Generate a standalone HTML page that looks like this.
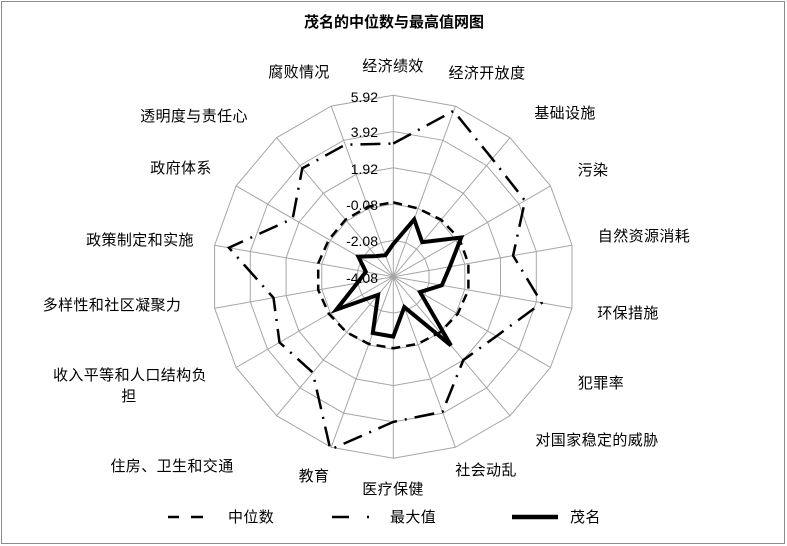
<!DOCTYPE html>
<html><head><meta charset="utf-8"><style>
html,body{margin:0;padding:0;background:#fff}
svg{display:block}
text{font-family:"Liberation Sans","Noto Sans CJK SC",sans-serif;fill:#000}
</style></head><body>
<svg id="s" width="787" height="546" viewBox="0 0 787 546" xmlns="http://www.w3.org/2000/svg">
<rect x="1.5" y="1.5" width="783" height="542" fill="#fff" stroke="#8c8c8c" stroke-width="1"/>
<text x="394" y="27" font-size="15" font-weight="bold" text-anchor="middle">茂名的中位数与最高值网图</text>
<g id="grid"></g>
<g id="series"></g>
<g font-size="14" text-anchor="end">
<text x="378" y="102">5.92</text>
<text x="378" y="137">3.92</text>
<text x="378" y="174">1.92</text>
<text x="378" y="210">-0.08</text>
<text x="378" y="246">-2.08</text>
<text x="378" y="283">-4.08</text>
</g>
<g font-size="15" letter-spacing="0.4" text-anchor="middle">
<text x="393" y="71">经济绩效</text>
<text x="487" y="78">经济开放度</text>
<text x="565" y="118">基础设施</text>
<text x="593" y="175">污染</text>
<text x="644" y="241">自然资源消耗</text>
<text x="628" y="318">环保措施</text>
<text x="601" y="388">犯罪率</text>
<text x="597" y="445">对国家稳定的威胁</text>
<text x="486" y="475">社会动乱</text>
<text x="393" y="494">医疗保健</text>
<text x="314" y="481">教育</text>
<text x="172" y="471">住房、卫生和交通</text>
<text x="130" y="380">收入平等和人口结构负</text>
<text x="129" y="401">担</text>
<text x="112" y="310">多样性和社区凝聚力</text>
<text x="140" y="245">政策制定和实施</text>
<text x="181" y="173">政府体系</text>
<text x="194" y="121">透明度与责任心</text>
<text x="299" y="77">腐败情况</text>
</g>
<g stroke="#000" stroke-width="2.5" fill="none">
<line x1="168" y1="517" x2="179" y2="517"/><line x1="191" y1="517" x2="203" y2="517"/>
<line x1="332" y1="517" x2="349" y2="517"/><line x1="367" y1="517" x2="369" y2="517"/>
<line x1="512" y1="517" x2="558" y2="517" stroke-width="4.5"/>
</g>
<g font-size="15" letter-spacing="0.4">
<text x="228" y="522">中位数</text>
<text x="390" y="522">最大值</text>
<text x="570" y="522">茂名</text>
</g>
</svg>
<script>
(function(){
var cx=393.3,cy=276.7,R=36.3,N=18;
function pt(i,r){var a=i*20*Math.PI/180;return [cx+r*R*Math.sin(a),cy-r*R*Math.cos(a)];}
var g=document.getElementById('grid'),h='';
for(var k=1;k<=5;k++){var p=[];for(var i=0;i<N;i++){var q=pt(i,k);p.push(q[0].toFixed(1)+','+q[1].toFixed(1));}
h+='<polygon points="'+p.join(' ')+'" fill="none" stroke="#a6a6a6" stroke-width="1"/>';}
for(var i=0;i<N;i++){var q=pt(i,5);h+='<line x1="'+cx+'" y1="'+cy+'" x2="'+q[0].toFixed(1)+'" y2="'+q[1].toFixed(1)+'" stroke="#a6a6a6" stroke-width="1"/>';}
g.innerHTML=h;
function poly(v,st){var p=[];for(var i=0;i<N;i++){var q=pt(i,v[i]);p.push(q[0].toFixed(1)+','+q[1].toFixed(1));}
return '<polygon points="'+p.join(' ')+'" fill="none" stroke="#000" '+st+'/>';}
var med=[2.05,2.0,2.05,2.1,2.1,2.1,2.05,2.0,1.97,1.97,1.97,2.0,2.05,2.1,2.1,2.05,2.05,2.05];
var mx=[3.67,4.86,4.24,4.19,3.35,4.15,3.28,3.0,3.96,4.0,5.07,3.45,3.62,3.35,4.6,3.2,3.9,3.87];
var mz=[0.9,1.68,1.24,2.16,1.58,1.36,0.85,2.47,0.89,1.65,1.65,0.65,1.81,1.01,0.77,1.11,0.74,0.63];
document.getElementById('series').innerHTML=
 poly(med,'stroke-width="2.5" stroke-dasharray="9 6"')+
 poly(mx,'stroke-width="2.5" stroke-dasharray="20 8 2 8"')+
 poly(mz,'stroke-width="4" stroke-linejoin="miter"');
})();
</script>
</body></html>
